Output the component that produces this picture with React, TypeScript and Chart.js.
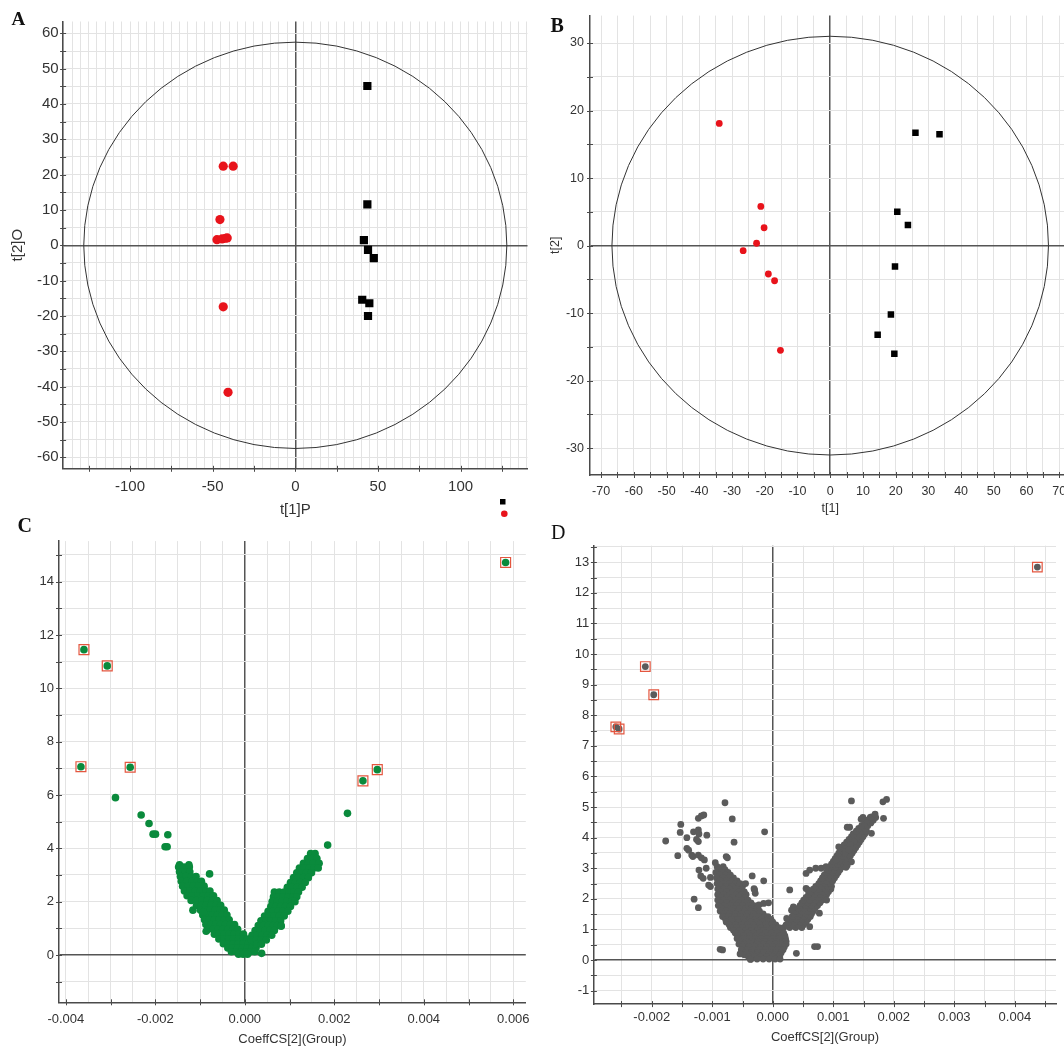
import React, { useEffect, useRef } from "react";
import { Chart, registerables } from "chart.js";

Chart.register(...registerables);

const FONT = "'Liberation Sans', Arial, Helvetica, sans-serif";
const SERIF = "'Liberation Serif', 'Times New Roman', serif";
const GRID = "#e3e3e3";
const ZERO = "#555555";
const AXIS = "#4a4a4a";
const TEXT = "#333333";

// ---------------- Panel A (OPLS-DA scores) ----------------
const aSquaresX = [43.6, 43.6, 41.5, 44.0, 47.5, 40.5, 44.8, 44.0];
const aSquaresY = [45.1, 11.6, 1.5, -1.3, -3.6, -15.4, -16.4, -20.0];
const aCirclesX = [-43.6, -37.6, -45.6, -47.4, -44.3, -42.2, -41.2, -43.6, -40.7];
const aCirclesY = [22.4, 22.4, 7.3, 1.6, 1.8, 2.0, 2.1, -17.4, -41.6];
const aEllipse = { rx: 128, ry: 57.5 };

// ---------------- Panel B (PCA scores) ----------------
const bSquaresX = [26.05, 33.4, 20.5, 23.75, 19.8, 18.55, 14.5, 19.6];
const bSquaresY = [16.7, 16.5, 5.0, 3.05, -3.1, -10.2, -13.2, -16.0];
const bCirclesX = [-33.9, -21.2, -20.2, -22.5, -26.6, -18.9, -17.0, -15.2];
const bCirclesY = [18.1, 5.8, 2.65, 0.35, -0.75, -4.2, -5.2, -15.5];
const bEllipse = { rx: 66.7, ry: 31.0 };

// ---------------- Panel C (S-plot style, green) ----------------
const cCloudRows: Array<[number, number[]]> = [
  [3.38, [-0.00146, -0.00125]],
  [3.3, [-0.00148, -0.00136, -0.00124]],
  [3.12, [-0.00146, -0.00134, -0.00123]],
  [2.94, [-0.00144, -0.00132, -0.0012, -0.00109]],
  [2.76, [-0.00142, -0.0013, -0.00118, -0.00106, -0.00097]],
  [2.58, [-0.00139, -0.00127, -0.00115, -0.00103, -0.00091]],
  [2.4, [-0.00135, -0.00123, -0.00111, -0.00099, -0.00087, -0.00078]],
  [2.22, [-0.00129, -0.00117, -0.00105, -0.00093, -0.00081, -0.0007]],
  [2.04, [-0.0012, -0.00108, -0.00096, -0.00084, -0.00072, -0.00062]],
  [1.86, [-0.00108, -0.00097, -0.00086, -0.00075, -0.00064, -0.00054]],
  [1.68, [-0.00116, -0.00099, -0.00088, -0.00077, -0.00066, -0.00055, -0.00046]],
  [1.5, [-0.00094, -0.00083, -0.00072, -0.00061, -0.0005, -0.0004]],
  [1.32, [-0.0009, -0.00079, -0.00068, -0.00057, -0.00046, -0.00035]],
  [1.14, [-0.00087, -0.00076, -0.00065, -0.00054, -0.00043, -0.00032, -0.00023]],
  [0.96, [-0.00082, -0.00071, -0.0006, -0.00049, -0.00038, -0.00027, -0.00016]],
  [0.78, [-0.00068, -0.00057, -0.00046, -0.00035, -0.00024, -0.00013, -0.00003]],
  [0.6, [-0.00058, -0.00047, -0.00036, -0.00025, -0.00014, -0.00003, 0.00006]],
  [0.42, [-0.00048, -0.00037, -0.00026, -0.00015, -0.00004, 0.00007, 0.00016]],
  [0.26, [-0.00038, -0.00027, -0.00016, -0.00005, 0.00006, 0.00016, 0.00025]],
  [0.12, [-0.0003, -0.00019, -0.00008, 0.00003, 0.00013, 0.00022]],
  [0.03, [-0.00014, -0.00004, 0.00006]],
  [3.8, [0.00147, 0.00157]],
  [3.62, [0.0014, 0.00151, 0.00161]],
  [3.44, [0.00131, 0.00142, 0.00153, 0.00166]],
  [3.26, [0.00122, 0.00133, 0.00144, 0.00155, 0.00164]],
  [3.08, [0.00116, 0.00127, 0.00138, 0.00149]],
  [2.9, [0.00109, 0.0012, 0.00131, 0.00142]],
  [2.72, [0.00102, 0.00113, 0.00124, 0.00135]],
  [2.54, [0.00095, 0.00106, 0.00117, 0.00128]],
  [2.36, [0.00066, 0.00077, 0.00088, 0.00099, 0.0011, 0.0012]],
  [2.18, [0.00064, 0.00075, 0.00086, 0.00097, 0.00108, 0.00116]],
  [2.0, [0.00061, 0.00072, 0.00083, 0.00094, 0.00105, 0.00112]],
  [1.82, [0.00058, 0.00069, 0.0008, 0.00091, 0.00102]],
  [1.64, [0.00052, 0.00063, 0.00074, 0.00085, 0.00096]],
  [1.46, [0.00044, 0.00055, 0.00066, 0.00077, 0.00088]],
  [1.28, [0.00036, 0.00047, 0.00058, 0.00069, 0.0008]],
  [1.1, [0.0003, 0.00041, 0.00052, 0.00063, 0.00073, 0.00081]],
  [0.92, [0.00023, 0.00034, 0.00045, 0.00056, 0.00066]],
  [0.74, [0.00016, 0.00027, 0.00038, 0.00049, 0.0006]],
  [0.56, [0.00015, 0.00026, 0.00037, 0.00048]],
  [0.4, [0.00027, 0.00037]],
];
const cIsolatedX = [-0.002891, -0.002317, -0.002141, -0.00205, -0.001996, -0.001721, -0.001782, -0.001736,
  0.002294, 0.001851, -0.000788, -0.000864, -0.000925, 0.000811, 0.000375];
const cIsolatedY = [5.9, 5.25, 4.93, 4.53, 4.53, 4.51, 4.06, 4.06, 5.31, 4.12, 3.04, 0.89, 1.61, 1.08, 0.06];
const cSelectedX = [0.005828, -0.003595, -0.003075, -0.003663, -0.002562, 0.002639, 0.00296];
const cSelectedY = [14.72, 11.45, 10.84, 7.06, 7.04, 6.53, 6.95];

// ---------------- Panel D (S-plot style, grey) ----------------
const dCloudRows: Array<[number, number[]]> = [
  [3.05, [-0.00092, -0.00082]],
  [2.95, [-0.00089, -0.00079]],
  [2.86, [-0.00094, -0.00084, -0.00074]],
  [2.77, [-0.00088, -0.00078, -0.0007]],
  [2.68, [-0.00093, -0.00083, -0.00073, -0.00065]],
  [2.59, [-0.00087, -0.00077, -0.00067, -0.00059]],
  [2.5, [-0.00092, -0.00082, -0.00072, -0.00062, -0.00054]],
  [2.41, [-0.00087, -0.00077, -0.00067, -0.00056, -0.0005]],
  [2.32, [-0.00091, -0.00081, -0.00071, -0.00061, -0.00051]],
  [2.23, [-0.00086, -0.00076, -0.00066, -0.00056, -0.00047]],
  [2.14, [-0.00091, -0.00081, -0.00071, -0.00061, -0.00051, -0.00044]],
  [2.05, [-0.00086, -0.00076, -0.00066, -0.00056, -0.00046]],
  [1.96, [-0.00091, -0.00081, -0.00071, -0.00061, -0.00051, -0.00041]],
  [1.87, [-0.00086, -0.00076, -0.00066, -0.00056, -0.00046, -0.00036]],
  [1.78, [-0.0009, -0.0008, -0.0007, -0.0006, -0.0005, -0.0004, -0.00031]],
  [1.69, [-0.00085, -0.00075, -0.00065, -0.00055, -0.00045, -0.00035, -0.00026]],
  [1.6, [-0.00087, -0.00077, -0.00067, -0.00057, -0.00047, -0.00037, -0.00027, -0.00022]],
  [1.51, [-0.00082, -0.00072, -0.00062, -0.00052, -0.00042, -0.00032, -0.00022, -0.00016]],
  [1.42, [-0.00083, -0.00073, -0.00063, -0.00053, -0.00043, -0.00033, -0.00023, -0.00013, -0.00008]],
  [1.33, [-0.00078, -0.00068, -0.00058, -0.00048, -0.00038, -0.00028, -0.00018, -0.00008, -0.00003]],
  [1.24, [-0.00077, -0.00067, -0.00057, -0.00047, -0.00037, -0.00027, -0.00017, -0.00007, 0.0]],
  [1.15, [-0.00072, -0.00062, -0.00052, -0.00042, -0.00032, -0.00022, -0.00012, -0.00002, 0.00005]],
  [1.06, [-0.0007, -0.0006, -0.0005, -0.0004, -0.0003, -0.0002, -0.0001, 0.0, 0.0001]],
  [0.97, [-0.00065, -0.00055, -0.00045, -0.00035, -0.00025, -0.00015, -0.00005, 0.00005, 0.00013]],
  [0.88, [-0.00062, -0.00052, -0.00042, -0.00032, -0.00022, -0.00012, -0.00002, 0.00008, 0.00018]],
  [0.79, [-0.00058, -0.00048, -0.00038, -0.00028, -0.00018, -0.00008, 0.00002, 0.00012, 0.0002]],
  [0.7, [-0.00059, -0.00049, -0.00039, -0.00029, -0.00019, -0.00009, 0.00001, 0.00011, 0.00021]],
  [0.61, [-0.00054, -0.00044, -0.00034, -0.00024, -0.00014, -0.00004, 0.00006, 0.00016, 0.00022]],
  [0.52, [-0.00056, -0.00046, -0.00036, -0.00026, -0.00016, -0.00006, 0.00004, 0.00014, 0.00022]],
  [0.43, [-0.0005, -0.0004, -0.0003, -0.0002, -0.0001, 0.0, 0.0001, 0.00019]],
  [0.34, [-0.00052, -0.00042, -0.00032, -0.00022, -0.00012, -0.00002, 0.00008, 0.00017]],
  [0.25, [-0.00045, -0.00035, -0.00025, -0.00015, -0.00005, 0.00005, 0.00014]],
  [0.17, [-0.00047, -0.00037, -0.00027, -0.00017, -0.00007, 0.00003, 0.00012]],
  [0.1, [-0.0004, -0.0003, -0.0002, -0.0001, 0.0, 0.0001]],
  [0.03, [-0.00036, -0.00026, -0.00016, -0.00006, 0.00004, 0.00012]],
  [1.06, [0.00018, 0.00028, 0.00038, 0.00048]],
  [1.15, [0.00022, 0.00032, 0.00042, 0.00051]],
  [1.24, [0.00026, 0.00036, 0.00046, 0.00055]],
  [1.33, [0.00029, 0.00039, 0.00049, 0.00058]],
  [1.42, [0.00032, 0.00042, 0.00052, 0.00062]],
  [1.51, [0.00035, 0.00045, 0.00055, 0.00064]],
  [1.6, [0.00038, 0.00048, 0.00058, 0.00067]],
  [1.69, [0.00042, 0.00052, 0.00062, 0.0007]],
  [1.78, [0.00045, 0.00055, 0.00065, 0.00074]],
  [1.87, [0.00048, 0.00058, 0.00068, 0.00078]],
  [1.96, [0.00051, 0.00061, 0.00071, 0.00082]],
  [2.05, [0.00055, 0.00065, 0.00075, 0.00085]],
  [2.14, [0.00059, 0.00069, 0.00079, 0.00089]],
  [2.23, [0.00063, 0.00073, 0.00083, 0.00092]],
  [2.32, [0.00067, 0.00077, 0.00087, 0.00096]],
  [2.41, [0.00071, 0.00081, 0.00091, 0.00097]],
  [2.5, [0.00076, 0.00086, 0.00096]],
  [2.59, [0.00079, 0.00089, 0.00099]],
  [2.68, [0.00082, 0.00092, 0.00102]],
  [2.77, [0.00085, 0.00095, 0.00105]],
  [2.86, [0.00089, 0.00099, 0.00108]],
  [2.95, [0.00092, 0.00102, 0.00111]],
  [3.04, [0.00094, 0.00104, 0.00114]],
  [3.13, [0.00097, 0.00107, 0.00117]],
  [3.22, [0.001, 0.0011, 0.0012]],
  [3.31, [0.00103, 0.00113, 0.00124]],
  [3.4, [0.00106, 0.00116, 0.00128]],
  [3.49, [0.00109, 0.00119, 0.00131]],
  [3.58, [0.00112, 0.00122, 0.00134]],
  [3.67, [0.00115, 0.00125, 0.00137]],
  [3.76, [0.00118, 0.00128, 0.0014]],
  [3.85, [0.00122, 0.00132, 0.00143]],
  [3.94, [0.00126, 0.00136, 0.00146]],
  [4.03, [0.0013, 0.0014, 0.00149]],
  [4.12, [0.00133, 0.00143, 0.00152]],
  [4.21, [0.00138, 0.00148, 0.00155]],
  [4.3, [0.00142, 0.00152]],
  [4.39, [0.00147, 0.00157]],
  [4.48, [0.00152, 0.00162]],
  [4.57, [0.00156, 0.00166]],
  [4.66, [0.00161, 0.0017]],
];
const dIsolatedX = [
  -0.00079, -0.00123, -0.00118, -0.00114, -0.00067, -0.00152, -0.000135, -0.00153, -0.00131, -0.00123,
  -0.00122, -0.00142, -0.00109, -0.00123, -0.00126, -0.00177, -0.00064, -0.00142, -0.00139, -0.00157,
  -0.00134, -0.00132, -0.00123, -0.00118, -0.00113, -0.00095, -0.00077, -0.00075, -0.00122, -0.0011,
  -0.00119, -0.00115, -0.00103, -0.00106, -0.00103, -0.00034, -0.00015, -0.0013, -0.00123, -0.00087,
  -0.00083, -0.00054, -0.00037, -0.00045, -0.0003, -0.00029, -0.00023, -0.00015, -0.00031, -0.00007,
  0.0013, 0.00182, 0.00188, 0.00146, 0.00149, 0.00163, 0.00169, 0.00183, 0.00123, 0.00127,
  0.00163, 0.00134, 0.00128, 0.00109, 0.0012, 0.00126, 0.0013, 0.00123, 0.00121, 0.00104,
  0.00055, 0.00061, 0.00071, 0.0008, 0.00088, 0.00028, 0.00055, 0.00058, 0.00089, 0.00034,
  0.00031, 0.00077, 0.00023, 0.00061, 0.00039, 0.00069, 0.00074,
];
const dIsolatedY = [
  5.14, 4.63, 4.71, 4.74, 4.61, 4.43, 4.19, 4.17, 4.19, 4.25,
  4.12, 4.0, 4.08, 3.87, 3.94, 3.89, 3.85, 3.65, 3.59, 3.41,
  3.43, 3.38, 3.43, 3.34, 3.27, 3.18, 3.38, 3.34, 2.94, 3.0,
  2.75, 2.67, 2.7, 2.45, 2.4, 2.75, 2.59, 1.99, 1.71, 0.35,
  0.33, 0.2, 0.02, 2.5, 2.29, 2.18, 1.8, 1.85, 2.33, 1.87,
  5.2, 5.17, 5.25, 4.6, 4.66, 4.68, 4.77, 4.63, 4.34, 4.34,
  4.14, 3.87, 3.76, 3.7, 3.54, 3.6, 3.21, 3.1, 3.03, 3.27,
  2.83, 2.94, 3.0, 3.0, 3.05, 2.29, 2.34, 2.29, 1.96, 1.74,
  1.63, 1.53, 1.36, 1.09, 0.22, 0.44, 0.44,
];
const dSelectedX = [0.004372, -0.002106, -0.001967, -0.002594, -0.002539];
const dSelectedY = [12.84, 9.59, 8.67, 7.62, 7.55];

// ---------------- helpers ----------------
const pts = (xs: number[], ys: number[]) => xs.map((x, i) => ({ x, y: ys[i] }));
const rows = (r: Array<[number, number[]]>) => r.flatMap(([y, xs]) => xs.map((x) => ({ x, y })));
const isMult = (v: number, s: number) => Math.abs(v / s - Math.round(v / s)) < 1e-6;
const isZero = (v: any, s: number) => typeof v === "number" && Math.abs(v) < s * 1e-6;
const fmtInt = (v: number) => String(Math.round(v));
const fmt3 = (v: number) => (Math.abs(v) < 1e-9 ? 0 : v).toFixed(3);

type AxisSpec = {
  min: number; max: number; grid: number; labelStep: number; tickStep: number;
  title?: string; titlePad?: number; labelPad: number; fmt: (v: number) => string;
};
type PanelSpec = {
  left: number; top: number; width: number; height: number;
  padLeft: number; padRight: number; padTop: number; yWidth: number; xHeight: number;
  fontSize: number; titleSize: number;
  x: AxisSpec; y: AxisSpec;
  datasets: any[];
  ellipse?: { rx: number; ry: number };
  legend?: boolean;
};

const crossTicks = {
  id: "crossTicks",
  afterDraw(chart: any, _a: any, opts: any) {
    const { ctx, chartArea } = chart;
    const xs = chart.scales.x;
    const ys = chart.scales.y;
    ctx.save();
    ctx.strokeStyle = AXIS;
    ctx.lineWidth = 1;
    ctx.beginPath();
    for (let k = Math.ceil(xs.min / opts.xStep); k * opts.xStep <= xs.max; k++) {
      const px = Math.round(xs.getPixelForValue(k * opts.xStep)) + 0.5;
      if (px - chartArea.left < 2) continue;
      ctx.moveTo(px, chartArea.bottom - 3);
      ctx.lineTo(px, chartArea.bottom + 3);
    }
    for (let k = Math.ceil(ys.min / opts.yStep); k * opts.yStep <= ys.max; k++) {
      const py = Math.round(ys.getPixelForValue(k * opts.yStep)) + 0.5;
      if (chartArea.bottom - py < 2) continue;
      ctx.moveTo(chartArea.left - 3, py);
      ctx.lineTo(chartArea.left + 3, py);
    }
    ctx.stroke();
    ctx.restore();
  },
};

const ellipsePlugin = {
  id: "ellipse",
  beforeDatasetsDraw(chart: any, _a: any, opts: any) {
    if (!opts || !opts.rx) return;
    const { ctx } = chart;
    const xs = chart.scales.x;
    const ys = chart.scales.y;
    const cx = xs.getPixelForValue(0);
    const cy = ys.getPixelForValue(0);
    const rx = Math.abs(xs.getPixelForValue(opts.rx) - cx);
    const ry = Math.abs(ys.getPixelForValue(opts.ry) - cy);
    ctx.save();
    ctx.strokeStyle = "#333";
    ctx.lineWidth = 1;
    ctx.beginPath();
    ctx.ellipse(cx, cy, rx, ry, 0, 0, Math.PI * 2);
    ctx.stroke();
    ctx.restore();
  },
};

const legendPlugin = {
  id: "groupLegend",
  afterDraw(chart: any, _a: any, opts: any) {
    if (!opts || !opts.show) return;
    const { ctx } = chart;
    ctx.save();
    ctx.fillStyle = "#000";
    ctx.fillRect(500, 499, 5.5, 5.5);
    ctx.fillStyle = "#e8131b";
    ctx.beginPath();
    ctx.arc(504.3, 513.7, 3.3, 0, Math.PI * 2);
    ctx.fill();
    ctx.restore();
  },
};

function axisOpts(a: AxisSpec, axis: "x" | "y", spec: PanelSpec) {
  return {
    type: "linear",
    position: axis === "x" ? "bottom" : "left",
    min: a.min,
    max: a.max,
    afterFit: (s: any) => {
      if (axis === "x") s.height = spec.xHeight;
      else s.width = spec.yWidth;
      s.paddingLeft = 0;
      s.paddingRight = 0;
      s.paddingTop = 0;
      s.paddingBottom = 0;
    },
    grid: {
      drawTicks: false,
      tickLength: 0,
      color: (c: any) => (isZero(c.tick && c.tick.value, a.grid) ? ZERO : GRID),
      lineWidth: (c: any) => (isZero(c.tick && c.tick.value, a.grid) ? 1.5 : 1),
    },
    border: { display: true, color: AXIS, width: 1.5 },
    ticks: {
      stepSize: a.grid,
      autoSkip: false,
      maxRotation: 0,
      minRotation: 0,
      includeBounds: false,
      padding: a.labelPad,
      color: TEXT,
      font: { family: FONT, size: spec.fontSize },
      callback: (v: any) => (isMult(Number(v), a.labelStep) ? a.fmt(Number(v)) : ""),
    },
    title: a.title
      ? {
          display: true,
          text: a.title,
          color: TEXT,
          font: { family: FONT, size: spec.titleSize },
          padding: axis === "x" ? { top: 0, bottom: a.titlePad || 0 } : { top: a.titlePad || 0, bottom: 0 },
        }
      : { display: false },
  };
}

function buildConfig(spec: PanelSpec): any {
  return {
    type: "scatter",
    data: { datasets: spec.datasets },
    options: {
      responsive: false,
      animation: false,
      devicePixelRatio: 1,
      events: [],
      layout: { padding: { left: spec.padLeft, right: spec.padRight, top: spec.padTop, bottom: 0 } },
      plugins: {
        legend: { display: false },
        tooltip: { enabled: false },
        crossTicks: { xStep: spec.x.tickStep, yStep: spec.y.tickStep },
        ellipse: spec.ellipse || {},
        groupLegend: { show: !!spec.legend },
      },
      scales: { x: axisOpts(spec.x, "x", spec), y: axisOpts(spec.y, "y", spec) },
    },
    plugins: [crossTicks, ellipsePlugin, legendPlugin],
  };
}

const panelA: PanelSpec = {
  left: 0, top: 0, width: 545, height: 530,
  padLeft: 0, padRight: 17.5, padTop: 21.5, yWidth: 63.1, xHeight: 61.2,
  fontSize: 15, titleSize: 15,
  x: { min: -140.5, max: 140.5, grid: 5, labelStep: 50, tickStep: 25, title: "t[1]P", titlePad: 11, labelPad: 9.5, fmt: fmtInt },
  y: { min: -63.25, max: 63.35, grid: 5, labelStep: 10, tickStep: 5, title: "t[2]O", titlePad: 9, labelPad: 4.5, fmt: fmtInt },
  ellipse: aEllipse,
  legend: true,
  datasets: [
    { data: pts(aSquaresX, aSquaresY), pointStyle: "rect", pointRadius: 5.8, backgroundColor: "#000", borderWidth: 0 },
    { data: pts(aCirclesX, aCirclesY), pointStyle: "circle", pointRadius: 4.6, backgroundColor: "#e8131b", borderWidth: 0 },
  ],
};

const panelB: PanelSpec = {
  left: 530, top: 0, width: 545, height: 530,
  padLeft: 0, padRight: 4, padTop: 15.6, yWidth: 60, xHeight: 55,
  fontSize: 12.5, titleSize: 12.5,
  x: { min: -73.4, max: 73.4, grid: 5, labelStep: 10, tickStep: 5, title: "t[1]", titlePad: 14, labelPad: 9.5, fmt: fmtInt },
  y: { min: -33.96, max: 34.06, grid: 5, labelStep: 10, tickStep: 5, title: "t[2]", titlePad: 18, labelPad: 6, fmt: fmtInt },
  ellipse: bEllipse,
  datasets: [
    { data: pts(bSquaresX, bSquaresY), pointStyle: "rect", pointRadius: 4.6, backgroundColor: "#000", borderWidth: 0 },
    { data: pts(bCirclesX, bCirclesY), pointStyle: "circle", pointRadius: 3.4, backgroundColor: "#e8131b", borderWidth: 0 },
  ],
};

const panelC: PanelSpec = {
  left: 0, top: 530, width: 545, height: 518,
  padLeft: 0, padRight: 19.2, padTop: 11.1, yWidth: 59, xHeight: 45.7,
  fontSize: 13, titleSize: 13,
  x: { min: -0.004153, max: 0.006279, grid: 0.0005, labelStep: 0.002, tickStep: 0.001, title: "CoeffCS[2](Group)", titlePad: 1.2, labelPad: 9.2, fmt: fmt3 },
  y: { min: -1.775, max: 15.52, grid: 1, labelStep: 2, tickStep: 1, labelPad: 5, fmt: fmtInt },
  datasets: [
    { data: pts(cSelectedX, cSelectedY), pointStyle: "rect", pointRadius: 7, backgroundColor: "rgba(0,0,0,0)", borderColor: "#e4563f", borderWidth: 1.2, order: 0 },
    { data: [...rows(cCloudRows), ...pts(cIsolatedX, cIsolatedY), ...pts(cSelectedX, cSelectedY)], pointStyle: "circle", pointRadius: 3.8, backgroundColor: "#0a8a3c", borderWidth: 0, order: 1 },
  ],
};

const panelD: PanelSpec = {
  left: 530, top: 530, width: 534, height: 518,
  padLeft: 0, padRight: 0, padTop: 15.7, yWidth: 63.9, xHeight: 43.9,
  fontSize: 13, titleSize: 13,
  x: { min: -0.002956, max: 0.00468, grid: 0.0005, labelStep: 0.001, tickStep: 0.0005, title: "CoeffCS[2](Group)", titlePad: 2.5, labelPad: 5.1, fmt: fmt3 },
  y: { min: -1.44, max: 13.54, grid: 0.5, labelStep: 1, tickStep: 0.5, labelPad: 4.6, fmt: fmtInt },
  datasets: [
    { data: pts(dSelectedX, dSelectedY), pointStyle: "rect", pointRadius: 6.8, backgroundColor: "rgba(0,0,0,0)", borderColor: "#e4563f", borderWidth: 1.2, order: 0 },
    { data: [...rows(dCloudRows), ...pts(dIsolatedX, dIsolatedY), ...pts(dSelectedX, dSelectedY)], pointStyle: "circle", pointRadius: 3.4, backgroundColor: "#5b5b5b", borderWidth: 0, order: 1 },
  ],
};

function Panel({ spec }: { spec: PanelSpec }) {
  const ref = useRef<HTMLCanvasElement>(null);
  useEffect(() => {
    const chart = new Chart(ref.current as HTMLCanvasElement, buildConfig(spec));
    return () => chart.destroy();
  }, [spec]);
  return (
    <canvas
      ref={ref}
      width={spec.width}
      height={spec.height}
      style={{ position: "absolute", left: spec.left, top: spec.top, width: spec.width, height: spec.height }}
    />
  );
}

const letterStyle = (left: number, top: number, size: number, bold: boolean): React.CSSProperties => ({
  position: "absolute",
  left,
  top,
  fontFamily: SERIF,
  fontSize: size,
  lineHeight: "20px",
  fontWeight: bold ? 700 : 400,
  color: "#111",
  margin: 0,
  whiteSpace: "nowrap",
});

export default function App() {
  return (
    <div style={{ position: "fixed", left: 0, top: 0, width: 1064, height: 1048, overflow: "hidden", background: "#fff" }}>
      <Panel spec={panelA} />
      <Panel spec={panelB} />
      <Panel spec={panelC} />
      <Panel spec={panelD} />
      <div style={letterStyle(11.5, 8.6, 19, true)}>A</div>
      <div style={letterStyle(550.5, 15.2, 20, true)}>B</div>
      <div style={letterStyle(17.5, 514.7, 20, true)}>C</div>
      <div style={letterStyle(551, 522.2, 20, false)}>D</div>
    </div>
  );
}
